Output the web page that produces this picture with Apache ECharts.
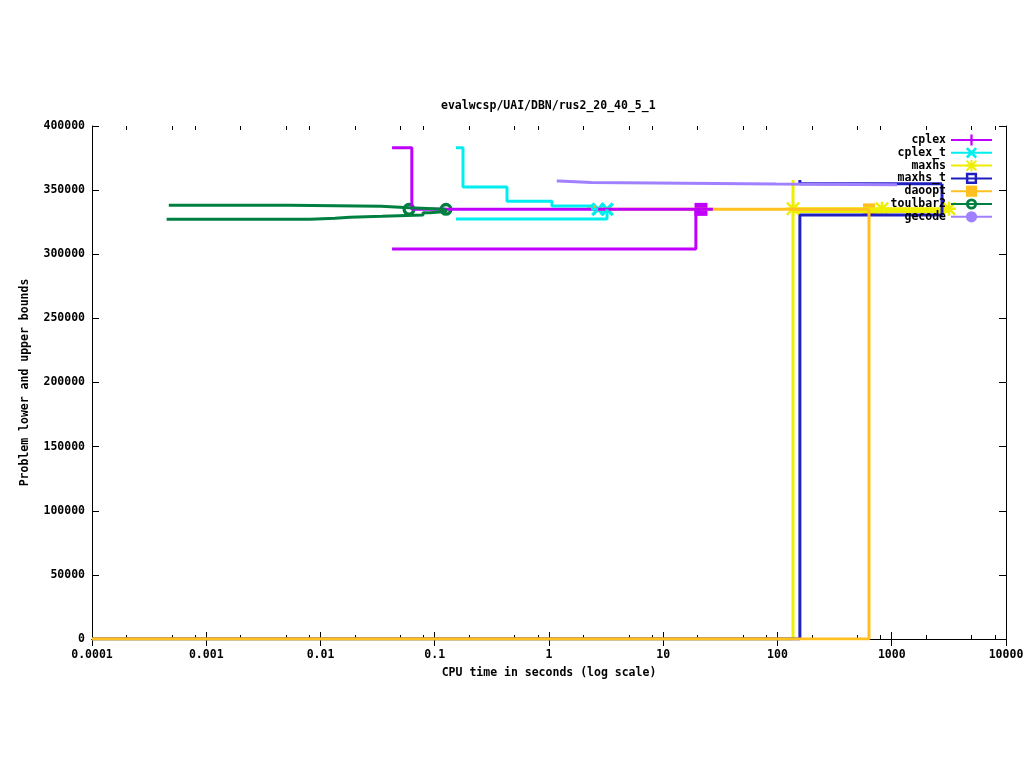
<!DOCTYPE html>
<html><head><meta charset="utf-8">
<script src="https://cdn.jsdelivr.net/npm/echarts@6/dist/echarts.min.js"></script>
<style>html,body{margin:0;padding:0;background:#fff}#c{width:1024px;height:768px}</style>
</head><body><div id="c"></div>
<script>
// ---------- data ----------
const chartTitle = 'evalwcsp/UAI/DBN/rus2_20_40_5_1';
const xAxisName = 'CPU time in seconds (log scale)';
const yAxisName = 'Problem lower and upper bounds';
const solvers = ['cplex', 'cplex_t', 'maxhs', 'maxhs_t', 'daoopt', 'toulbar2', 'gecode'];

const xTickValues = [0.0001, 0.001, 0.01, 0.1, 1, 10, 100, 1000, 10000];
const xTickLabels = ['0.0001', '0.001', '0.01', '0.1', '1', '10', '100', '1000', '10000'];
const xMinorTicks = [0.0002, 0.0005, 0.0008, 0.002, 0.005, 0.008, 0.02, 0.05, 0.08, 0.2, 0.5, 0.8,
                     2, 5, 8, 20, 50, 80, 200, 500, 800, 2000, 5000, 8000];
const yTickValues = [0, 50000, 100000, 150000, 200000, 250000, 300000, 350000, 400000];

// [time, bound] step points
const cplexUpper   = [[0.0423, 383000], [0.063, 335000], [27.2, 335000]];
const cplexLower   = [[0.0423, 304100], [19.3, 335000], [21.4, 335000]];
const cplexMarks   = [[21.4, 335000]];

const cplexTUpper  = [[0.1535, 383000], [0.1767, 352400], [0.429, 341300], [1.062, 337600], [2.4, 335000], [2.69, 335000]];
const cplexTLower  = [[0.1535, 327500], [3.22, 335000]];
const cplexTMarks  = [[2.69, 335000], [3.22, 335000]];

const maxhsUpper   = [[136.7, 357900], [136.7, 335500], [3170, 335500]];
const maxhsLower   = [[0.0001, 0], [136.7, 333300], [3170, 333300]];
const maxhsMarks   = [[136.7, 335500], [822, 335500], [3170, 335500]];

const maxhsTUpper  = [[157, 357900], [157, 355000], [2754, 355000]];
const maxhsTLower  = [[0.0001, 0], [157, 330600], [2754, 355000]];

const daooptUpper  = [[2.15, 336900], [2.5, 335000], [632, 335000]];
const daooptLower  = [[0.0001, 0], [632, 335000]];
const daooptMarks  = [[632, 335000]];

const toulbarUpper = [[0.00047, 338200], [0.0054, 337400], [0.034, 336300], [0.0595, 335000], [0.1254, 335000]];
const toulbarLower = [[0.00045, 327300], [0.0081, 328100], [0.0134, 328900], [0.0181, 329600], [0.0345, 330600],
                      [0.079, 332400], [0.0908, 333400], [0.1254, 335000]];
const toulbarMarks = [[0.0595, 335000], [0.1254, 335000]];

const gecodeUpper  = [[1.17, 357100], [1.23, 355900], [2.35, 354700], [97.5, 354100], [1112, 354100]];

// ---------- styling ----------
const FONT = 'DejaVu Sans Mono';
const txt = {fontFamily: FONT, fontSize: 11.5, fontWeight: 'bold', color: '#000'};
const colors = {
  cplex: '#c000ff', cplex_t: '#00eeee', maxhs: '#eeee00', maxhs_t: '#2020c0',
  daoopt: '#ffc020', toulbar2: '#008040', gecode: '#a080ff'
};
const SYM = {
  plus: 'path://M40,0L60,0L60,40L100,40L100,60L60,60L60,100L40,100L40,60L0,60L0,40L40,40Z',
  cross: 'path://M0,17L17,0L100,83L83,100Z M83,0L100,17L17,100L0,83Z',
  star: 'path://M0,41L100,41L100,59L0,59Z M41,0L59,0L59,100L41,100Z M0,12L12,0L100,88L88,100Z M88,0L100,12L12,100L0,88Z',
  hsq: 'path://M0,0L100,0L100,100L0,100Z M22,22L22,78L78,78L78,22Z',
  ring: 'path://M50,0A50,50,0,1,1,49.9,0Z M50,26A24,24,0,1,0,50.1,26Z'
};

function line(name, data, symbol) {
  return {
    type: 'line', name, data, step: 'end', symbol, showSymbol: false,
    lineStyle: {color: colors[name], width: 3}, itemStyle: {color: colors[name]},
    silent: true, animation: false, xAxisIndex: 0, yAxisIndex: 0
  };
}
function marks(name, data, symbol, size) {
  return {
    type: 'scatter', name, data, symbol, symbolSize: size,
    itemStyle: {color: colors[name], opacity: 1}, silent: true, animation: false,
    xAxisIndex: 0, yAxisIndex: 0
  };
}

const series = [
  line('maxhs', maxhsUpper, SYM.star), line('maxhs', maxhsLower, SYM.star),
  line('maxhs_t', maxhsTUpper, SYM.hsq), line('maxhs_t', maxhsTLower, SYM.hsq),
  line('daoopt', daooptUpper, 'rect'), line('daoopt', daooptLower, 'rect'),
  marks('maxhs', maxhsMarks, SYM.star, 14),
  marks('daoopt', daooptMarks, 'rect', 12),
  line('cplex', cplexUpper, SYM.plus), line('cplex', cplexLower, SYM.plus),
  marks('cplex', cplexMarks, 'rect', 13),
  line('cplex_t', cplexTUpper, SYM.cross), line('cplex_t', cplexTLower, SYM.cross),
  marks('cplex_t', cplexTMarks, SYM.cross, 14),
  line('toulbar2', toulbarUpper, SYM.ring), line('toulbar2', toulbarLower, SYM.ring),
  marks('toulbar2', toulbarMarks, SYM.ring, 13),
  line('gecode', gecodeUpper, 'circle')
];

function xLabel(v) {
  const i = xTickValues.findIndex(t => Math.abs(Math.log10(t) - Math.log10(v)) < 1e-6);
  return i >= 0 ? xTickLabels[i] : '';
}
function yLabel(v) {
  const i = yTickValues.indexOf(v);
  return i >= 0 ? String(yTickValues[i]) : '';
}

const axisLineStyle = {show: true, lineStyle: {color: '#000', width: 1}};
const baseX = {type: 'log', logBase: 10, min: 0.0001, max: 10000, splitLine: {show: false}, gridIndex: 0};
const baseY = {type: 'value', min: 0, max: 400000, interval: 50000, splitLine: {show: false}, gridIndex: 0};

const option = {
  animation: false,
  backgroundColor: '#fff',
  title: {text: chartTitle, left: 441, top: 100, padding: 0, textStyle: Object.assign({}, txt)},
  grid: {left: 92, right: 18, top: 126, bottom: 129, containLabel: false, outerBoundsMode: 'none'},
  legend: {
    data: solvers, orient: 'vertical', right: 31, top: 133.5, align: 'right',
    itemWidth: 41, itemHeight: 14, itemGap: -0.2, padding: 0, selectedMode: false,
    textStyle: Object.assign({lineHeight: 13}, txt)
  },
  xAxis: [
    Object.assign({}, baseX, {
      position: 'bottom', name: xAxisName, nameLocation: 'middle', nameGap: 28,
      nameTextStyle: Object.assign({}, txt),
      axisLine: axisLineStyle,
      axisTick: {show: true, inside: true, length: 7, lineStyle: {color: '#000'}},
      minorTick: {show: false},
      axisLabel: Object.assign({show: true, margin: 10, formatter: xLabel}, txt)
    }),
    Object.assign({}, baseX, {
      position: 'top', axisLine: axisLineStyle,
      axisTick: {show: true, inside: true, length: 7, lineStyle: {color: '#000'}},
      axisLabel: {show: false}
    }),
    Object.assign({}, baseX, {
      position: 'bottom', axisLine: {show: false},
      axisTick: {show: true, inside: true, length: 4, customValues: xMinorTicks, lineStyle: {color: '#000'}},
      axisLabel: {show: false}
    }),
    Object.assign({}, baseX, {
      position: 'top', axisLine: {show: false},
      axisTick: {show: true, inside: true, length: 4, customValues: xMinorTicks, lineStyle: {color: '#000'}},
      axisLabel: {show: false}
    })
  ],
  yAxis: [
    Object.assign({}, baseY, {
      position: 'left', name: yAxisName, nameLocation: 'middle', nameGap: 61, nameRotate: 90,
      nameTextStyle: Object.assign({}, txt),
      axisLine: axisLineStyle,
      axisTick: {show: true, inside: true, length: 7, lineStyle: {color: '#000'}},
      axisLabel: Object.assign({show: true, margin: 7, formatter: yLabel}, txt)
    }),
    Object.assign({}, baseY, {
      position: 'right', axisLine: axisLineStyle,
      axisTick: {show: true, inside: true, length: 7, lineStyle: {color: '#000'}},
      axisLabel: {show: false}
    })
  ],
  series: series
};

const chart = echarts.init(document.getElementById('c'));
chart.setOption(option);
</script>
</body></html>
